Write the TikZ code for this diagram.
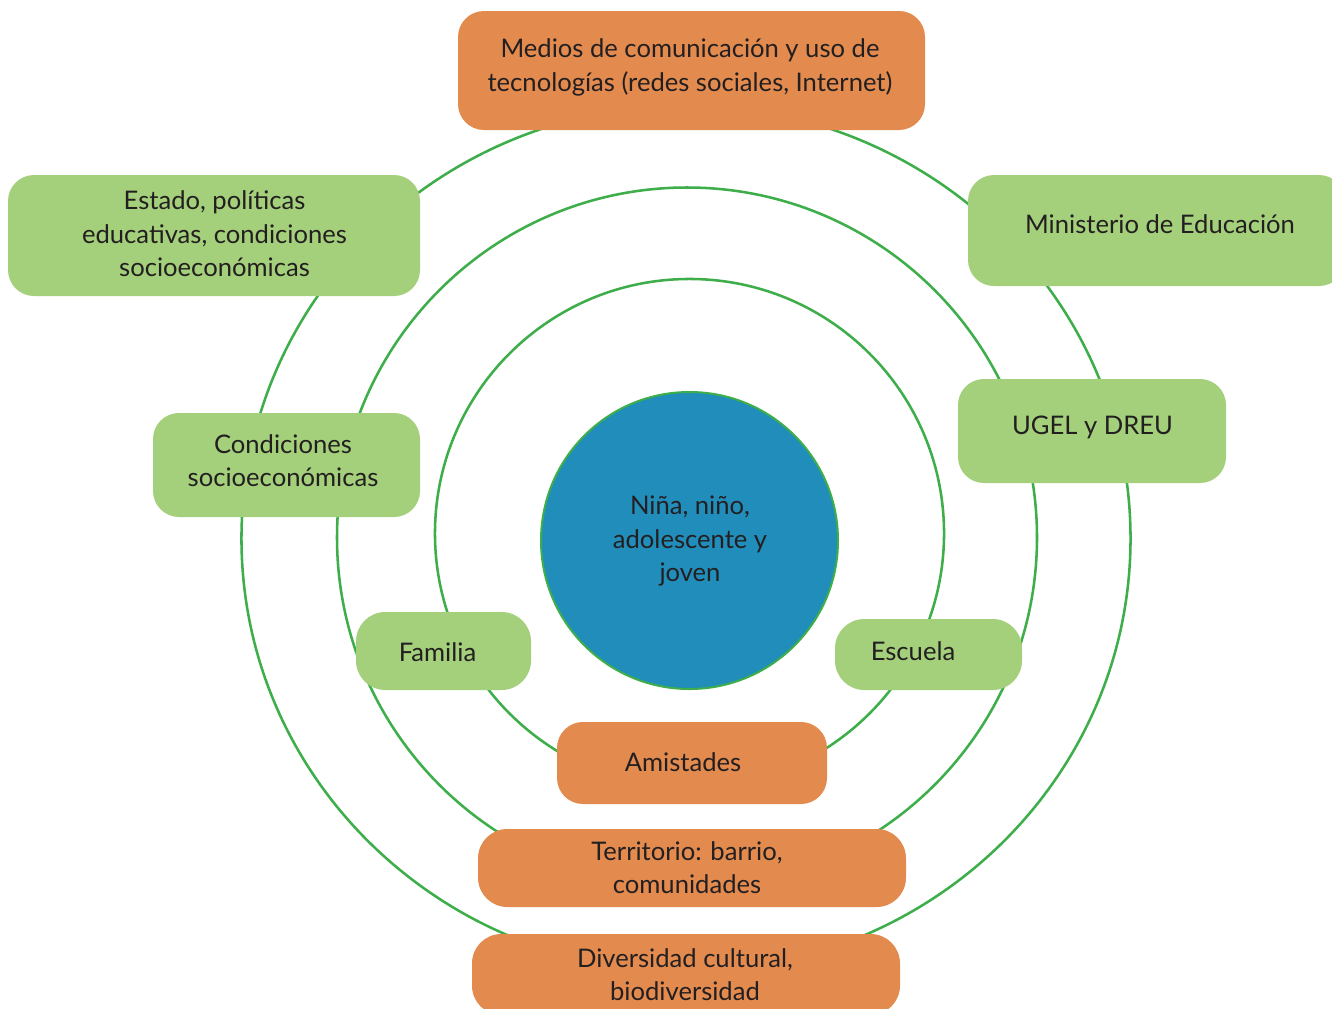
\documentclass[tikz,border=0pt]{standalone}
\usepackage{fontspec}
\setmainfont{Lato}
\definecolor{ringgreen}{HTML}{3DAE49}
\definecolor{boxgreen}{HTML}{A4D07B}
\definecolor{boxorange}{HTML}{E38B4F}
\definecolor{coreblue}{HTML}{218DBB}
\definecolor{txt}{HTML}{231F20}
\tikzset{
  ring/.style={draw=ringgreen, line width=1.9pt},
  gbox/.style={rectangle, fill=boxgreen, rounded corners=19.5pt, inner sep=0pt},
  obox/.style={rectangle, fill=boxorange, rounded corners=19.5pt, inner sep=0pt},
  lbl/.style={text=txt, align=center, inner sep=0pt, font=\fontsize{19.2}{25.2}\selectfont},
}
\begin{document}
\begin{tikzpicture}[x=0.75pt, y=-0.75pt]
\useasboundingbox (0,0) rectangle (1332,1008);
\clip (0,0) rectangle (1332,1008);
\fill[white] (0,0) rectangle (1332,1008);
% rings
\draw[ring] (686,538.5) ellipse[x radius=333.4pt, y radius=324.75pt];
\draw[ring] (687,537.5) circle[radius=262.5pt];
\draw[ring] (689.5,533.5) circle[radius=190.9pt];
% core
\node[circle, fill=coreblue, draw=ringgreen, line width=1.5pt, minimum size=222.75pt, inner sep=0pt] (core) at (689.5,540.5) {};
\node[lbl] (core-t) at (690,541) {Niña, niño,\\adolescente y\\joven};
% boxes
\node[obox, minimum width=350.25pt, minimum height=89.25pt] (medios) at (691.5,70.5) {};
\node[lbl] (medios-t) at (690,67.5) {Medios de comunicación y uso de\\tecnologías (redes sociales, Internet)};
\node[gbox, minimum width=309pt, minimum height=90.75pt] (estado) at (214,235.5) {};
\node[lbl] (estado-t) at (214.5,234) {Estado, políticas\\educativas, condiciones\\socioeconómicas};
\node[gbox, minimum width=282.75pt, minimum height=83.25pt] (minist) at (1156.5,230.5) {};
\node[lbl] (minist-t) at (1160,224) {Ministerio de Educación};
\node[gbox, minimum width=201pt, minimum height=78pt] (ugel) at (1092,431) {};
\node[lbl] (ugel-t) at (1092.5,427) {UGEL y DREU};
\node[gbox, minimum width=200.25pt, minimum height=78pt] (cond) at (286.5,465) {};
\node[lbl] (cond-t) at (283,460.5) {Condiciones\\socioeconómicas};
\node[gbox, rounded corners=22pt, minimum width=131.25pt, minimum height=58.5pt] (familia) at (443.5,651) {};
\node[lbl] (familia-t) at (437.5,652) {Familia};
\node[gbox, rounded corners=22pt, minimum width=140.25pt, minimum height=53.25pt] (escuela) at (928.5,654.5) {};
\node[lbl] (escuela-t) at (913,651) {Escuela};
\node[obox, minimum width=202.5pt, minimum height=61.5pt] (amist) at (692,763) {};
\node[lbl] (amist-t) at (683,762) {Amistades};
\node[obox, rounded corners=22pt, minimum width=321pt, minimum height=58.5pt] (territ) at (692,868) {};
\node[lbl] (territ-t) at (687,867.5) {Territorio: barrio,\\comunidades};
\node[obox, rounded corners=22pt, minimum width=321pt, minimum height=60.75pt] (divers) at (686,974.5) {};
\node[lbl] (divers-t) at (685,974.5) {Diversidad cultural,\\biodiversidad};
\end{tikzpicture}
\end{document}
